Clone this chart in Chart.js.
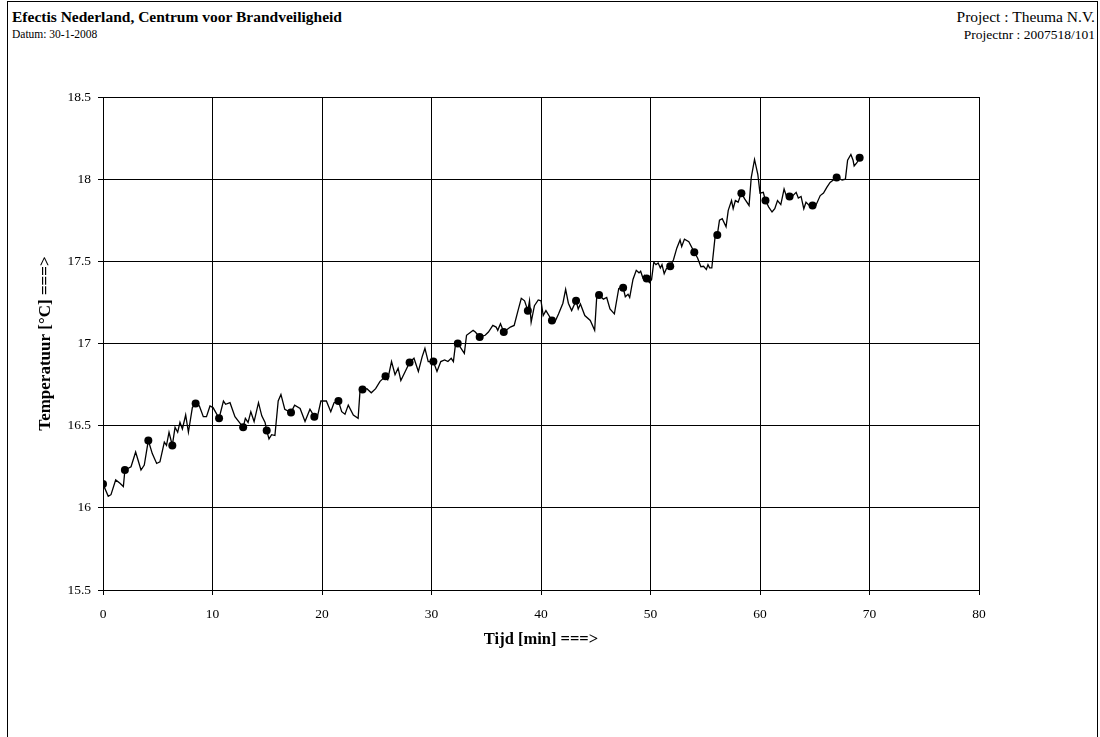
<!DOCTYPE html>
<html>
<head>
<meta charset="utf-8">
<script src="https://cdn.jsdelivr.net/npm/chart.js@4.4.1/dist/chart.umd.min.js"></script>
<style>
  html, body { margin: 0; padding: 0; background: #fff; }
  body { width: 1100px; height: 737px; position: relative; overflow: hidden; font-family: "Liberation Serif", "Times New Roman", serif; }
  #frame { position: absolute; left: 7px; top: 1px; width: 1091px; height: 745px; border: 1px solid #000; box-sizing: border-box; }
  .hdr { position: absolute; white-space: nowrap; color: #000; }
  #grafiek { position: absolute; left: 0; top: 0; }
</style>
</head>
<body>
<div id="frame"></div>
<div class="hdr" style="left:12px; top:8px; font-size:15.5px; font-weight:bold;">Efectis Nederland, Centrum voor Brandveiligheid</div>
<div class="hdr" style="left:12px; top:28px; font-size:11.5px;">Datum: 30-1-2008</div>
<div class="hdr" style="right:5px; top:8px; font-size:15.5px;">Project : Theuma N.V.</div>
<div class="hdr" style="right:5px; top:27px; font-size:13.5px;">Projectnr : 2007518/101</div>
<canvas id="grafiek" width="1100" height="737"></canvas>
<script>
// meetwaarden (tijd in min, temperatuur in °C)
const tijd = [0, 0.48, 0.73, 1.16, 1.55, 1.86, 2.0, 2.56, 2.98, 3.47, 3.77, 4.14, 4.5, 4.9, 5.2, 5.6, 5.8, 6.03, 6.33, 6.58,
  6.82, 7.03, 7.25, 7.55, 7.8, 8.16, 8.46, 8.8, 9.16, 9.45, 9.77, 10.05, 10.6, 11.0, 11.2, 11.6, 12.05, 12.4, 12.8, 13.0,
  13.25, 13.5, 13.8, 14.2, 14.5, 14.8, 14.95, 15.16, 15.4, 15.7, 16.0, 16.25, 16.6, 17.17, 17.5, 18.0, 18.45, 18.9, 19.3, 19.6,
  19.9, 20.4, 20.8, 21.1, 21.5, 21.8, 22.1, 22.4, 22.86, 23.3, 23.47, 23.7, 24.1, 24.5, 24.9, 25.3, 25.8, 26.0, 26.35, 26.67,
  26.95, 27.2, 27.6, 28.0, 28.4, 28.8, 29.15, 29.4, 29.7, 30.17, 30.5, 30.85, 31.2, 31.5, 31.8, 32.0, 32.2, 32.4, 32.7, 33.0,
  33.2, 33.6, 33.8, 34.0, 34.4, 34.9, 35.2, 35.6, 35.9, 36.05, 36.3, 36.6, 37.2, 37.55, 37.9, 38.2, 38.5, 38.8, 38.95, 39.1,
  39.4, 39.75, 40.0, 40.2, 40.45, 41.0, 41.3, 41.6, 42.0, 42.25, 42.5, 42.8, 43.2, 43.4, 43.6, 44.0, 44.5, 44.9, 45.1, 45.3,
  45.7, 46.0, 46.3, 46.7, 47.1, 47.5, 47.7, 47.95, 48.1, 48.4, 48.7, 48.95, 49.1, 49.3, 49.45, 49.65, 49.9, 50.1, 50.3, 50.5,
  50.7, 50.9, 51.05, 51.25, 51.45, 51.8, 52.1, 52.4, 52.7, 52.85, 53.1, 53.5, 54.0, 54.3, 54.6, 54.85, 55.1, 55.25, 55.4, 55.6,
  55.9, 56.1, 56.3, 56.55, 56.9, 57.1, 57.4, 57.55, 57.75, 58.0, 58.3, 58.6, 59.0, 59.2, 59.5, 59.8, 60.0, 60.3, 60.5, 60.8,
  61.1, 61.35, 61.6, 61.9, 62.2, 62.4, 62.7, 63.0, 63.3, 63.5, 63.75, 64.0, 64.2, 64.5, 64.8, 65.1, 65.5, 65.8, 66.1, 66.4,
  67.0, 67.5, 67.8, 68.0, 68.3, 68.5, 68.6, 68.85, 69.1];
const temperatuur = [16.145, 16.07, 16.08, 16.17, 16.15, 16.13, 16.23, 16.25, 16.34, 16.23, 16.26, 16.41, 16.33, 16.27, 16.28, 16.40, 16.38, 16.46, 16.38, 16.49,
  16.46, 16.52, 16.48, 16.565, 16.46, 16.61, 16.635, 16.62, 16.555, 16.555, 16.62, 16.61, 16.545, 16.65, 16.63, 16.64, 16.555, 16.525, 16.49, 16.545,
  16.52, 16.585, 16.525, 16.64, 16.56, 16.52, 16.47, 16.42, 16.445, 16.44, 16.65, 16.69, 16.6, 16.58, 16.625, 16.605, 16.525, 16.6, 16.555, 16.56,
  16.65, 16.65, 16.585, 16.64, 16.65, 16.585, 16.57, 16.625, 16.565, 16.545, 16.71, 16.72, 16.725, 16.70, 16.725, 16.77, 16.80, 16.78, 16.89, 16.81,
  16.85, 16.775, 16.83, 16.885, 16.91, 16.83, 16.92, 16.97, 16.89, 16.89, 16.83, 16.89, 16.90, 16.89, 16.91, 16.89, 17.0, 17.0, 16.97, 16.94,
  17.05, 17.07, 17.08, 17.07, 17.04, 17.05, 17.07, 17.11, 17.10, 17.08, 17.12, 17.07, 17.1, 17.11, 17.2, 17.275, 17.26, 17.2, 17.26, 17.13,
  17.23, 17.265, 17.26, 17.17, 17.20, 17.14, 17.135, 17.18, 17.245, 17.33, 17.245, 17.2, 17.26, 17.21, 17.24, 17.17, 17.14, 17.08, 17.295, 17.295,
  17.27, 17.28, 17.21, 17.18, 17.335, 17.34, 17.285, 17.30, 17.28, 17.39, 17.445, 17.43, 17.44, 17.40, 17.415, 17.395, 17.37, 17.39, 17.495, 17.48,
  17.49, 17.46, 17.48, 17.425, 17.455, 17.47, 17.51, 17.58, 17.63, 17.59, 17.635, 17.62, 17.555, 17.52, 17.467, 17.47, 17.45, 17.48, 17.46, 17.46,
  17.65, 17.66, 17.75, 17.76, 17.71, 17.81, 17.87, 17.82, 17.87, 17.86, 17.915, 17.88, 17.84, 18.01, 18.12, 18.03, 17.915, 17.92, 17.87, 17.83,
  17.80, 17.82, 17.87, 17.845, 17.94, 17.90, 17.895, 17.90, 17.92, 17.885, 17.895, 17.82, 17.86, 17.84, 17.84, 17.84, 17.9, 17.915, 17.95, 17.98,
  18.01, 17.995, 18.0, 18.115, 18.15, 18.115, 18.08, 18.10, 18.13];

// markeringen op de lijn
const markTijd = [0, 2.0, 4.14, 6.33, 8.46, 10.6, 12.8, 14.95, 17.17, 19.3, 21.5, 23.7, 25.8, 28.0, 30.17, 32.4, 34.4,
  36.6, 38.8, 41.0, 43.2, 45.3, 47.5, 49.65, 51.8, 54.0, 56.1, 58.3, 60.5, 62.7, 64.8, 67.0, 69.1];
const markTemp = [16.145, 16.23, 16.41, 16.38, 16.635, 16.545, 16.49, 16.47, 16.58, 16.555, 16.65, 16.72, 16.80, 16.885, 16.89, 17.0, 17.04,
  17.07, 17.2, 17.14, 17.26, 17.295, 17.34, 17.395, 17.47, 17.555, 17.66, 17.915, 17.87, 17.895, 17.84, 18.01, 18.13];

const xTicks = [0, 10, 20, 30, 40, 50, 60, 70, 80];
const yTicks = [15.5, 16, 16.5, 17, 17.5, 18, 18.5];

const lijnPunten = tijd.map((t, i) => ({ x: t, y: temperatuur[i] }));
const markPunten = markTijd.map((t, i) => ({ x: t, y: markTemp[i] }));

const ctx = document.getElementById('grafiek').getContext('2d');
const grafiek = new Chart(ctx, {
    type: 'line',
    data: {
        datasets: [{
            data: lijnPunten,
            borderColor: '#000',
            borderWidth: 1.3,
            pointRadius: 0,
            tension: 0,
            order: 2
        }, {
            data: markPunten,
            showLine: false,
            pointRadius: 4,
            pointBackgroundColor: '#000',
            pointBorderColor: '#000',
            pointBorderWidth: 0,
            order: 1
        }]
    },
    options: {
        responsive: false,
        animation: false,
        devicePixelRatio: 1,
        layout: { padding: { left: 0, top: 97, right: 121, bottom: 0 } },
        plugins: { legend: { display: false }, tooltip: { enabled: false } },
        scales: {
            x: {
                type: 'linear',
                min: 0,
                max: 80,
                afterBuildTicks: (s) => { s.ticks = xTicks.map(v => ({ value: v })); },
                afterFit: (s) => { s.height = 147; },
                grid: { color: '#000', lineWidth: 1, tickLength: 5 },
                border: { color: '#000', width: 1 },
                ticks: {
                    color: '#000', padding: 11, maxRotation: 0,
                    font: { family: 'Liberation Serif', size: 13.5 }
                },
                title: {
                    display: true,
                    text: 'Tijd [min] ===>',
                    color: '#000',
                    font: { family: 'Liberation Serif', size: 16.5, weight: 'bold' },
                    padding: { top: 0, bottom: 87 }
                }
            },
            y: {
                min: 15.5,
                max: 18.5,
                afterBuildTicks: (s) => { s.ticks = yTicks.map(v => ({ value: v })); },
                afterFit: (s) => { s.width = 103; },
                grid: { color: '#000', lineWidth: 1, tickLength: 5 },
                border: { color: '#000', width: 1 },
                ticks: {
                    color: '#000', padding: 7,
                    font: { family: 'Liberation Serif', size: 13.5 },
                    callback: (v) => String(v)
                },
                title: {
                    display: true,
                    text: 'Temperatuur [°C] ===>',
                    color: '#000',
                    font: { family: 'Liberation Serif', size: 17, weight: 'bold' },
                    padding: { top: 35, bottom: 0 }
                }
            }
        }
    }
});
</script>
</body>
</html>
